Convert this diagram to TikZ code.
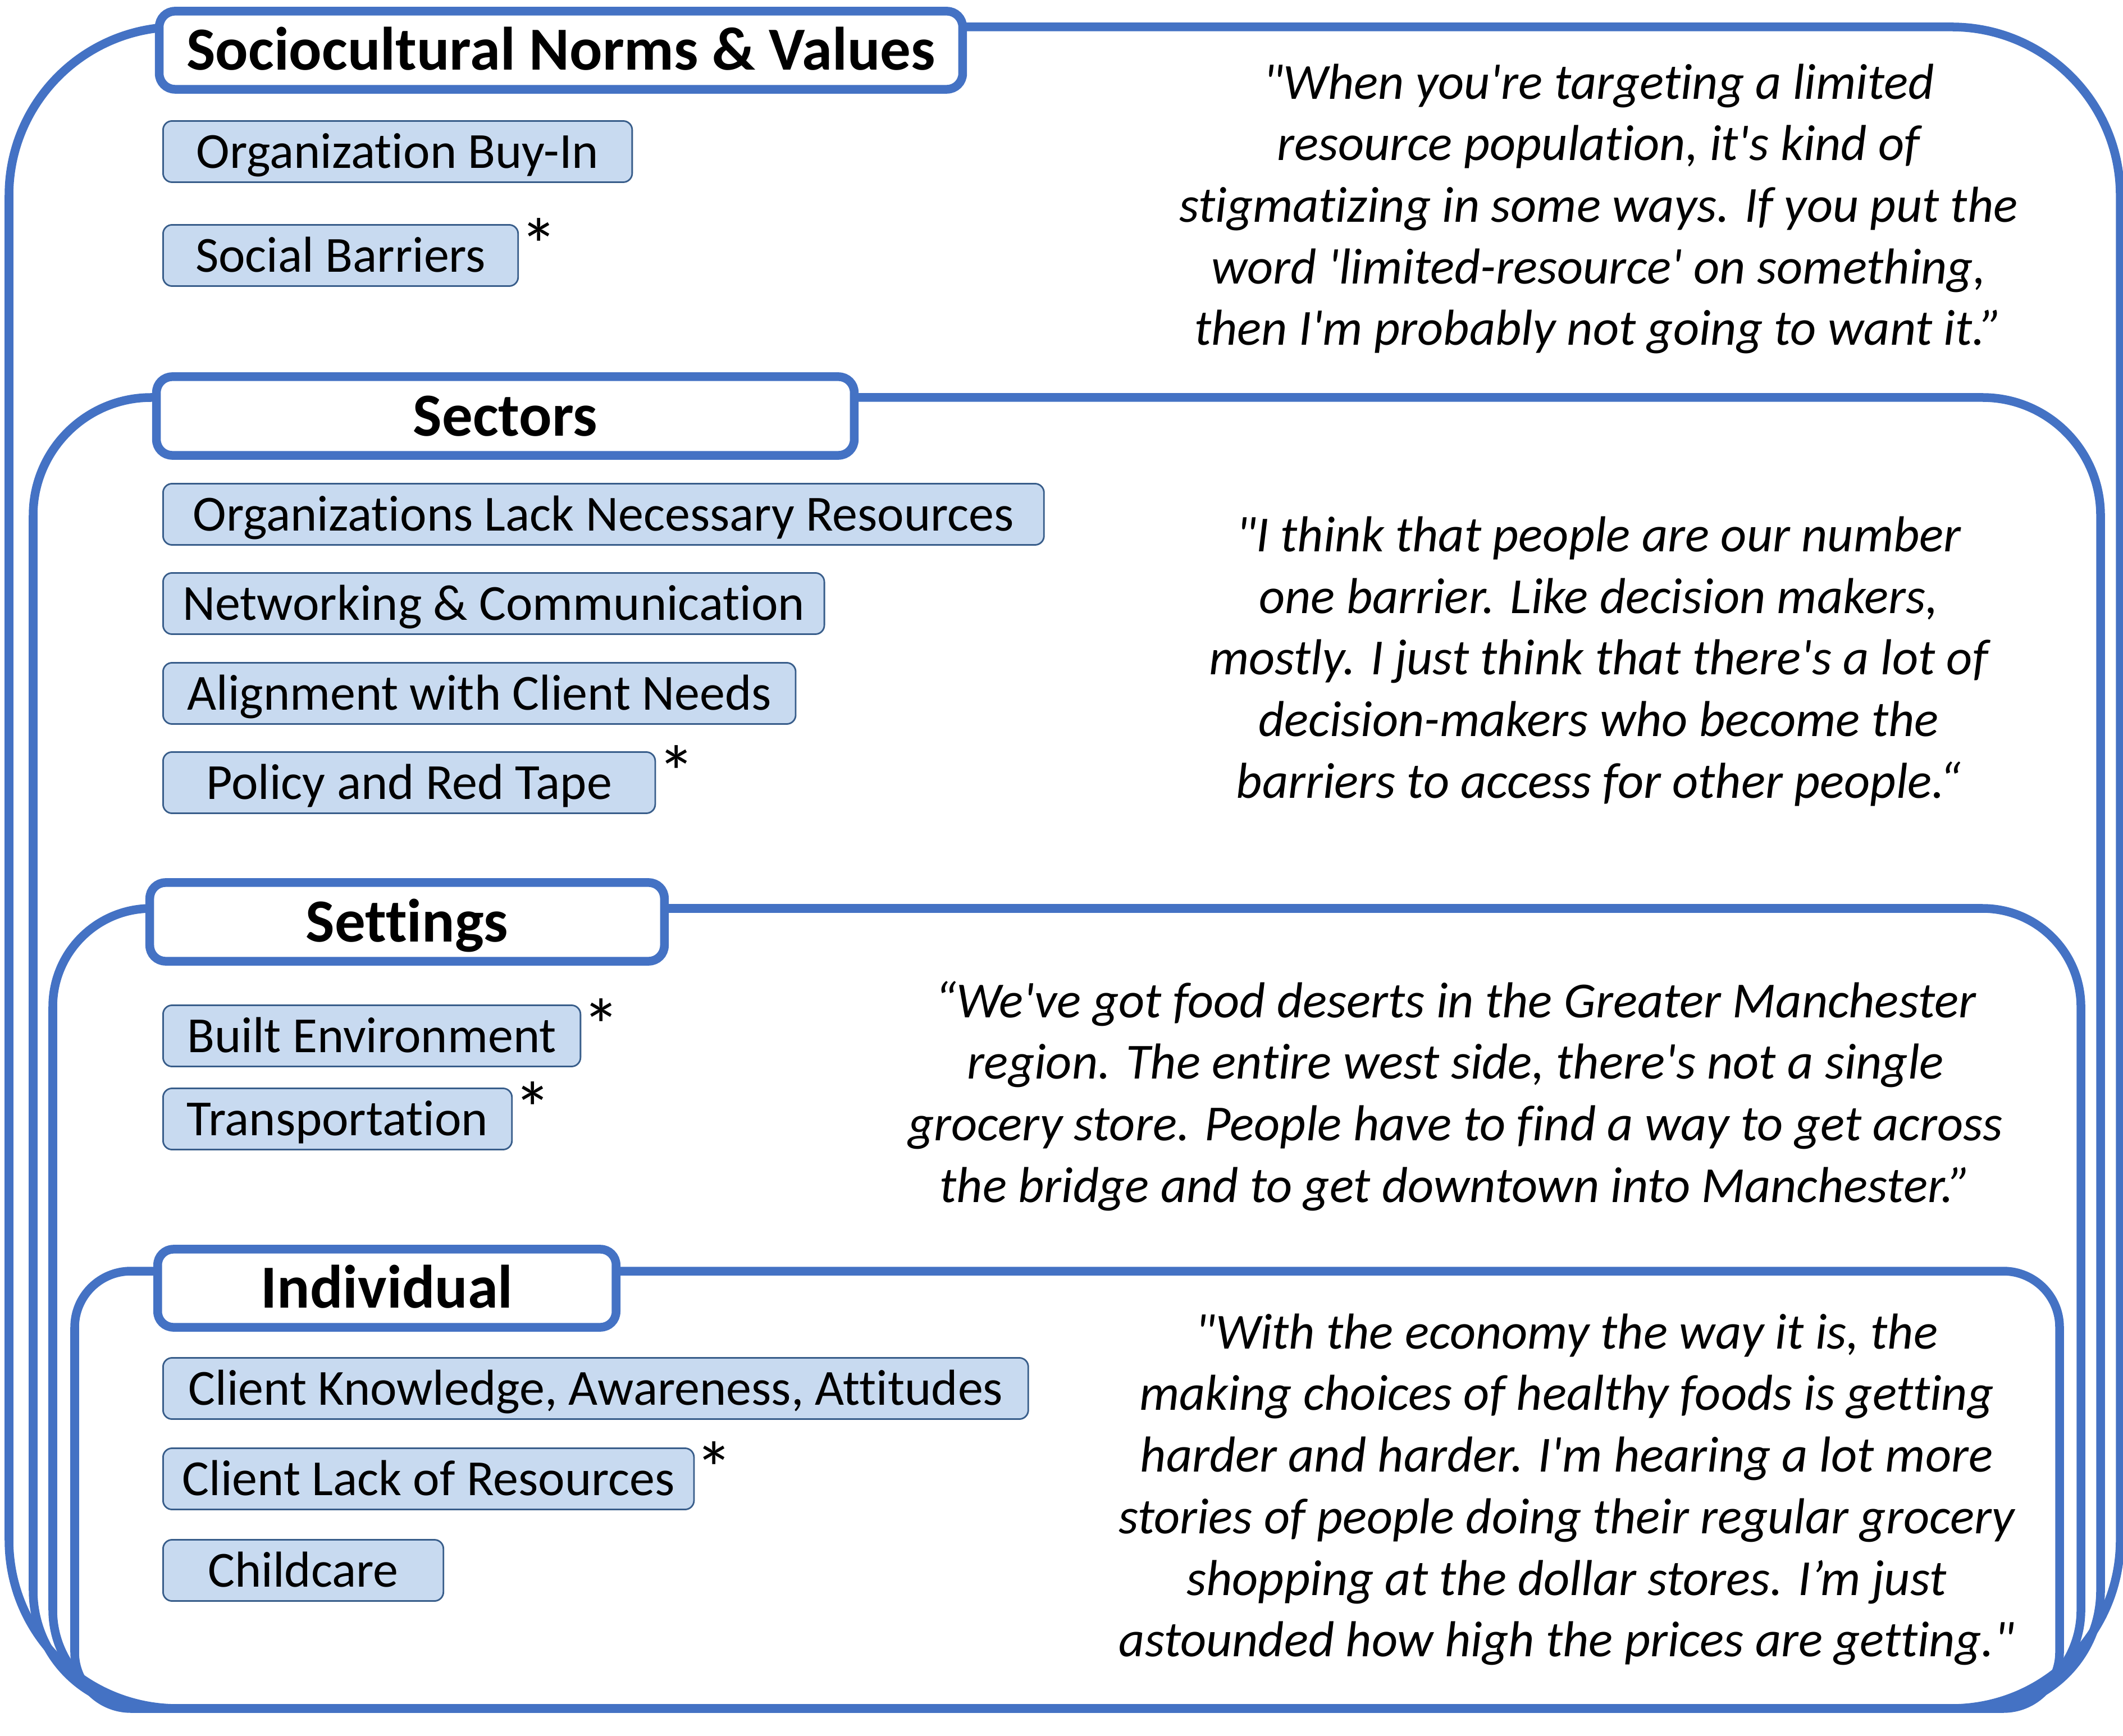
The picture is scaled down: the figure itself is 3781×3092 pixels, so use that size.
\documentclass[tikz,border=0pt]{standalone}
\usepackage{fontspec}
\usepackage{tikz}
\newfontfamily\calib{Carlito}[Ligatures=CommonOff]
\definecolor{frameblue}{HTML}{4472C4}
\definecolor{itemfill}{RGB}{200,218,240}
\definecolor{itemline}{RGB}{56,93,138}
\tikzset{
  ringline/.style={draw=frameblue, line width=0.155cm},
  levelbox/.style={draw=frameblue, fill=white, line width=0.155cm, rounded corners=0.28cm, inner sep=0pt,
    font=\calib\fontsize{31}{37}\selectfont\bfseries, text height=23.2pt, text depth=3.1pt},
  factorbox/.style={draw=itemline, fill=itemfill, line width=0.8pt, rounded corners=0.16cm, inner sep=0pt,
    anchor=west, minimum height=1.09cm, font=\calib\fontsize{25.6}{31.2}\selectfont, text height=19.2pt, text depth=2.6pt},
  astx/.style={anchor=base, inner sep=0pt, font=\calib\fontsize{38}{40}\selectfont},
  quotetext/.style={align=center, inner sep=0pt, font=\calib\itshape\fontsize{25.6}{31.2}\selectfont},
}
\begin{document}
\begin{tikzpicture}[x=0.01cm, y=-0.01cm]
\useasboundingbox (0,0) rectangle (3781,3092);

% nested levels
\draw[ringline, rounded corners=3cm] (16,48) rectangle (3776,3043);
\draw[ringline, rounded corners=2.1cm] (59,708) rectangle (3741,3043);
\draw[ringline, rounded corners=1.75cm] (94,1618) rectangle (3706,3043);
\draw[ringline, rounded corners=1cm] (133,2264) rectangle (3668,3043);

\node[levelbox, minimum width=14.30cm, minimum height=1.39cm] (norms) at (999,89.5) {Sociocultural Norms \& Values};
\node[levelbox, minimum width=12.42cm, minimum height=1.40cm] (sectors) at (900,741) {Sectors};
\node[levelbox, minimum width=9.16cm, minimum height=1.40cm] (settings) at (725,1642) {Settings};
\node[levelbox, minimum width=8.16cm, minimum height=1.39cm] (individual) at (689,2294.5) {Individual};

% barriers
\node[factorbox, minimum width=8.35cm] (buyin) at (289,270) {Organization Buy-In};
\node[factorbox, minimum width=6.32cm] (social) at (289,455) {Social Barriers};

\node[factorbox, minimum width=15.68cm] (lackres) at (289,916) {Organizations Lack Necessary Resources};
\node[factorbox, minimum width=11.77cm] (network) at (289,1075) {Networking \& Communication};
\node[factorbox, minimum width=11.26cm] (alignment) at (289,1235) {Alignment with Client Needs};
\node[factorbox, minimum width=8.76cm] (policy) at (289,1394) {Policy and Red Tape};

\node[factorbox, minimum width=7.43cm] (built) at (289,1845) {Built Environment};
\node[factorbox, minimum width=6.21cm] (transport) at (289,1993) {Transportation};

\node[factorbox, minimum width=15.40cm] (knowledge) at (289,2473) {Client Knowledge, Awareness, Attitudes};
\node[factorbox, minimum width=9.45cm] (lackof) at (289,2634) {Client Lack of Resources};
\node[factorbox, minimum width=4.99cm] (childcare) at (289,2797) {Childcare};

\node[astx] (socialstar) at ([shift={(36,84)}]social.north east) {*};
\node[astx] (policystar) at ([shift={(36,84)}]policy.north east) {*};
\node[astx] (builtstar) at ([shift={(36,84)}]built.north east) {*};
\node[astx] (transportstar) at ([shift={(36,84)}]transport.north east) {*};
\node[astx] (lackofstar) at ([shift={(34,84)}]lackof.north east) {*};

% quotes
\node[quotetext] (normsquote) at (2847,372) {"When you're targeting a limited\\resource population, it's kind of\\stigmatizing in some ways. If you put the\\word 'limited-resource' on something,\\then I'm probably not going to want it.”};
\node[quotetext] (sectorsquote) at (2847,1178) {"I think that people are our number\\one barrier. Like decision makers,\\mostly. I just think that there's a lot of\\decision-makers who become the\\barriers to access for other people.“};
\node[quotetext] (settingsquote) at (2592,1952) {“We've got food deserts in the Greater Manchester\\region. The entire west side, there's not a single\\grocery store. People have to find a way to get across\\the bridge and to get downtown into Manchester.”};
\node[quotetext] (individualquote) at (2790,2653) {"With the economy the way it is, the\\making choices of healthy foods is getting\\harder and harder. I'm hearing a lot more\\stories of people doing their regular grocery\\shopping at the dollar stores. I’m just\\astounded how high the prices are getting."};
\end{tikzpicture}
\end{document}
